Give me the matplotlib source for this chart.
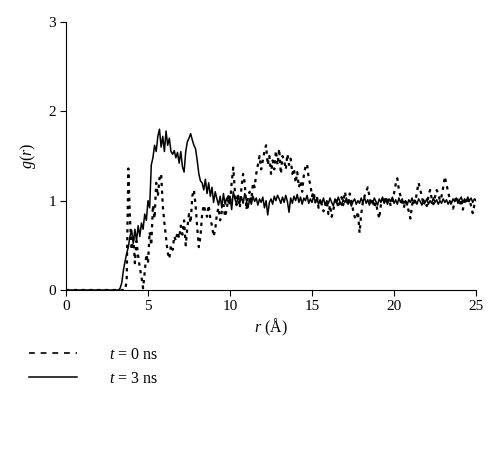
import numpy as np
import matplotlib
matplotlib.use("Agg")
import matplotlib.pyplot as plt
from matplotlib.lines import Line2D

plt.rcParams["font.family"] = ["Liberation Serif", "DejaVu Serif"]
plt.rcParams["mathtext.fontset"] = "custom"
plt.rcParams["mathtext.it"] = "Liberation Serif:italic"
plt.rcParams["mathtext.rm"] = "Liberation Serif"

# r grid, 0.1 A steps from 0 to 25
r = np.round(np.arange(0, 251) * 0.1, 1)

# g(r) at t = 0 ns (dashed), one row per angstrom
g_t0 = [
    0, 0, 0, 0, 0, 0, 0, 0, 0, 0,                                  # 0
    0, 0, 0, 0, 0, 0, 0, 0, 0, 0,                                  # 1
    0, 0, 0, 0, 0, 0, 0, 0, 0, 0,                                  # 2
    0, 0, 0, 0, 0, 0, 0, 0.10, 1.36, 0.80,                         # 3
    0.45, 0.62, 0.30, 0.55, 0.38, 0.25, 0.15, 0.02, 0.20, 0.40,    # 4
    0.30, 0.65, 0.50, 0.95, 0.80, 1.20, 1.05, 1.25, 1.30, 0.95,    # 5
    0.75, 0.58, 0.42, 0.35, 0.50, 0.45, 0.60, 0.55, 0.65, 0.58,    # 6
    0.72, 0.62, 0.78, 0.50, 0.70, 0.85, 0.75, 1.05, 1.12, 0.95,    # 7
    0.70, 0.48, 0.60, 0.85, 0.95, 0.88, 0.82, 0.95, 0.80, 0.72,    # 8
    0.60, 0.68, 0.85, 0.92, 0.78, 0.88, 0.95, 0.82, 0.90, 1.05,    # 9
    0.95, 1.20, 1.37, 1.10, 0.95, 1.05, 0.92, 1.15, 1.30, 1.20,    # 10
    0.90, 1.05, 1.10, 1.00, 1.20, 1.15, 1.30, 1.40, 1.50, 1.35,    # 11
    1.45, 1.55, 1.62, 1.40, 1.50, 1.30, 1.45, 1.35, 1.56, 1.40,    # 12
    1.58, 1.30, 1.50, 1.45, 1.35, 1.52, 1.40, 1.47, 1.30, 1.36,    # 13
    1.20, 1.32, 1.15, 1.22, 1.10, 1.28, 1.38, 1.41, 1.25, 1.18,    # 14
    1.05, 1.10, 0.98, 1.05, 0.92, 1.02, 0.95, 0.88, 0.92, 1.00,    # 15
    0.85, 0.95, 0.82, 0.90, 0.98, 1.02, 0.92, 0.98, 1.04, 0.95,    # 16
    1.10, 1.02, 0.95, 1.08, 1.00, 0.90, 0.82, 0.79, 0.88, 0.64,    # 17
    0.85, 0.98, 1.05, 1.10, 1.15, 1.05, 0.95, 1.02, 0.92, 0.98,    # 18
    0.88, 0.80, 0.95, 1.02, 0.97, 1.05, 0.96, 1.02, 0.94, 1.00,    # 19
    1.08, 1.18, 1.25, 1.12, 1.05, 0.98, 0.92, 1.00, 0.95, 0.88,    # 20
    0.80, 0.95, 1.02, 0.98, 1.10, 1.20, 1.12, 1.05, 0.95, 1.00,    # 21
    0.94, 1.05, 1.12, 1.02, 0.96, 1.04, 1.12, 1.08, 1.00, 1.05,    # 22
    1.15, 1.27, 1.18, 1.10, 1.02, 0.95, 0.91, 0.98, 1.05, 1.00,    # 23
    0.95, 1.02, 0.90, 0.98, 1.04, 0.96, 1.02, 0.94, 0.86, 0.95,    # 24
    1.02,                                                          # 25
]

# g(r) at t = 3 ns (solid)
g_t3 = [
    0, 0, 0, 0, 0, 0, 0, 0, 0, 0,                                  # 0
    0, 0, 0, 0, 0, 0, 0, 0, 0, 0,                                  # 1
    0, 0, 0, 0, 0, 0, 0, 0, 0, 0,                                  # 2
    0, 0, 0, 0.02, 0.08, 0.22, 0.32, 0.41, 0.48, 0.60,             # 3
    0.67, 0.52, 0.68, 0.55, 0.72, 0.60, 0.75, 0.68, 0.85, 0.78,    # 4
    1.00, 0.92, 1.40, 1.48, 1.62, 1.55, 1.72, 1.80, 1.60, 1.72,    # 5
    1.55, 1.78, 1.62, 1.70, 1.55, 1.52, 1.56, 1.48, 1.54, 1.42,    # 6
    1.55, 1.38, 1.32, 1.55, 1.66, 1.70, 1.75, 1.68, 1.62, 1.58,    # 7
    1.45, 1.30, 1.22, 1.20, 1.12, 1.24, 1.08, 1.20, 1.05, 1.15,    # 8
    0.98, 1.10, 1.02, 0.95, 1.05, 0.92, 1.08, 0.96, 1.03, 0.98,    # 9
    1.05, 0.90, 1.10, 1.02, 0.96, 1.06, 0.98, 1.04, 0.97, 1.08,    # 10
    1.00, 0.92, 1.02, 0.96, 1.05, 0.99, 1.03, 0.95, 1.02, 0.98,    # 11
    1.04, 0.92, 1.00, 0.84, 0.98, 1.02, 0.96, 1.05, 1.00, 1.06,    # 12
    1.02, 0.97, 1.04, 0.98, 1.06, 0.99, 0.87, 1.03, 0.97, 1.05,    # 13
    1.00, 1.07, 0.98, 1.04, 0.96, 1.03, 1.00, 1.06, 0.97, 1.02,    # 14
    0.98, 1.05, 0.99, 1.02, 0.96, 1.01, 0.97, 1.03, 0.95, 1.00,    # 15
    0.97, 1.03, 0.98, 0.94, 1.02, 0.97, 1.04, 0.99, 0.95, 1.01,    # 16
    0.98, 1.03, 0.96, 1.00, 0.94, 0.99, 1.02, 0.96, 1.00, 0.97,    # 17
    1.03, 0.98, 1.04, 0.97, 1.01, 0.95, 1.00, 0.97, 1.03, 0.99,    # 18
    0.95, 1.02, 0.98, 1.04, 0.97, 1.01, 0.96, 1.02, 0.99, 1.04,    # 19
    0.97, 1.01, 0.96, 1.03, 0.98, 1.02, 0.97, 1.00, 0.95, 1.01,    # 20
    0.98, 1.03, 0.97, 1.00, 0.96, 1.02, 0.99, 0.95, 1.01, 0.98,    # 21
    1.02, 0.96, 1.00, 0.97, 1.03, 0.98, 1.01, 0.96, 1.00, 0.97,    # 22
    1.02, 0.98, 1.01, 0.96, 1.00, 0.97, 1.02, 0.99, 1.03, 0.97,    # 23
    1.01, 1.04, 0.98, 1.02, 0.99, 1.04, 1.00, 1.03, 0.98, 1.02,    # 24
    1.00,                                                          # 25
]
assert len(g_t0) == len(r) and len(g_t3) == len(r)

labels = ["$t$ = 0 ns", "$t$ = 3 ns"]

fig = plt.figure(figsize=(5.0, 4.57), dpi=100)
ax = fig.add_axes([0.132, 0.3654, 0.82, 0.5865])
ax.plot(r, g_t0, color="black", lw=1.6, ls=(0, (1.5, 2.0)))
ax.plot(r, g_t3, color="black", lw=1.1)

ax.set_xlim(0, 25); ax.set_ylim(0, 3)
ax.set_xticks([0, 5, 10, 15, 20, 25]); ax.set_yticks([0, 1, 2, 3])
ax.spines[["top", "right"]].set_visible(False)
ax.tick_params(direction="out", length=4, width=0.8, labelsize=11, pad=3)
ax.set_xlabel("$r$ (Å)", fontsize=11.5, labelpad=3)
ax.set_ylabel("$g$($r$)", fontsize=11.5, labelpad=8)

handles = [Line2D([], [], color="black", lw=1.2, ls=(0, (3.5, 3.5))),
           Line2D([], [], color="black", lw=1.1)]
fig.legend(handles, labels, loc="upper left", bbox_to_anchor=(0.045, 0.255),
           frameon=False, fontsize=11.5, handlelength=3.0, handletextpad=2.0,
           labelspacing=0.5, borderaxespad=0)

fig.savefig("out.png", dpi=100)
